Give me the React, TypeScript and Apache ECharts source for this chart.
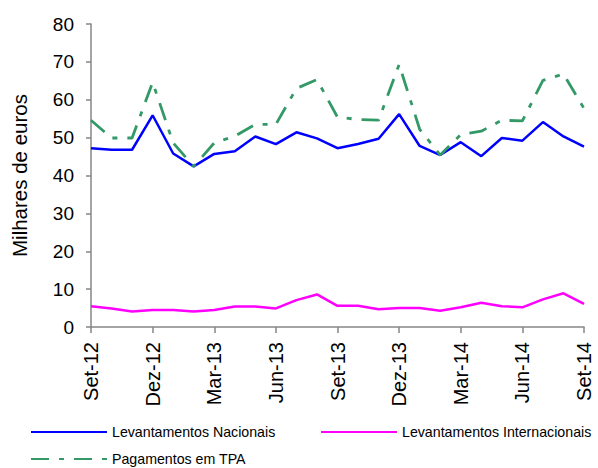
import React, { useEffect, useRef } from "react";
import * as echarts from "echarts";

const months = [
  "Set-12", "Out-12", "Nov-12", "Dez-12", "Jan-13", "Fev-13", "Mar-13", "Abr-13", "Mai-13",
  "Jun-13", "Jul-13", "Ago-13", "Set-13", "Out-13", "Nov-13", "Dez-13", "Jan-14", "Fev-14",
  "Mar-14", "Abr-14", "Mai-14", "Jun-14", "Jul-14", "Ago-14", "Set-14",
];

const nacionais = [
  47.2, 46.8, 46.8, 55.9, 45.8, 42.4, 45.7, 46.4, 50.3, 48.3, 51.4, 49.8, 47.2,
  48.3, 49.7, 56.2, 47.8, 45.4, 48.8, 45.1, 49.9, 49.2, 54.1, 50.3, 47.6,
];

const internacionais = [
  5.5, 4.9, 4.1, 4.5, 4.5, 4.1, 4.5, 5.4, 5.4, 4.9, 7.1, 8.6, 5.6,
  5.6, 4.7, 5.0, 5.0, 4.3, 5.2, 6.4, 5.5, 5.2, 7.3, 8.9, 6.1,
];

const tpa = [
  54.6, 49.9, 49.9, 64.6, 48.6, 42.4, 48.6, 50.4, 53.5, 53.5, 63.0, 65.3, 55.4,
  54.8, 54.6, 69.3, 52.2, 45.4, 50.8, 51.7, 54.6, 54.4, 65.1, 66.8, 57.7,
];

const FONT = "'Liberation Sans', Arial, sans-serif";

export default function App() {
  const ref = useRef<HTMLDivElement>(null);
  useEffect(() => {
    if (!ref.current) return;
    const chart = echarts.init(ref.current, undefined, { renderer: "svg" });
    const legendCommon = {
      itemWidth: 76,
      itemHeight: 14,
      padding: 0,
      itemStyle: { opacity: 0 },
      textStyle: { fontSize: 14.2, color: "#000", fontFamily: FONT },
    };
    chart.setOption({
      animation: false,
      backgroundColor: "#ffffff",
      grid: { left: 91, right: 14, top: 24, bottom: 141, containLabel: false },
      xAxis: {
        type: "category",
        data: months,
        boundaryGap: false,
        axisLine: { lineStyle: { color: "#868686", width: 1.5 } },
        axisTick: { interval: 2, length: 6, lineStyle: { color: "#868686", width: 1.5 } },
        axisLabel: {
          interval: 2,
          rotate: 90,
          margin: 15,
          fontSize: 20,
          color: "#000",
          fontFamily: FONT,
        },
        splitLine: { show: false },
      },
      yAxis: {
        type: "value",
        min: 0,
        max: 80,
        interval: 10,
        name: "Milhares de euros",
        nameLocation: "middle",
        nameGap: 61,
        nameTextStyle: { fontSize: 20.5, color: "#000", fontFamily: FONT },
        axisLine: { show: true, lineStyle: { color: "#868686", width: 1.5 } },
        axisTick: { show: true, length: 5, lineStyle: { color: "#868686", width: 1.5 } },
        axisLabel: { fontSize: 19, color: "#000", fontFamily: FONT, margin: 17 },
        splitLine: { show: false },
      },
      legend: [
        { ...legendCommon, data: ["Levantamentos Nacionais"], left: 30, top: 425 },
        { ...legendCommon, data: ["Levantamentos Internacionais"], left: 320, top: 425 },
        { ...legendCommon, data: ["Pagamentos em TPA"], left: 30, top: 452 },
      ],
      series: [
        {
          name: "Levantamentos Nacionais",
          type: "line",
          data: nacionais,
          symbol: "none",
          lineStyle: { color: "#0000ff", width: 2.5 },
          itemStyle: { color: "#0000ff" },
        },
        {
          name: "Levantamentos Internacionais",
          type: "line",
          data: internacionais,
          symbol: "none",
          lineStyle: { color: "#ff00ff", width: 2.5 },
          itemStyle: { color: "#ff00ff" },
        },
        {
          name: "Pagamentos em TPA",
          type: "line",
          data: tpa,
          symbol: "none",
          lineStyle: { color: "#339966", width: 2.8, type: [18, 10, 5, 10] },
          itemStyle: { color: "#339966" },
        },
      ],
    });
    return () => chart.dispose();
  }, []);
  return (
    <div
      ref={ref}
      style={{ position: "absolute", left: 0, top: 0, width: 598, height: 468 }}
    />
  );
}
